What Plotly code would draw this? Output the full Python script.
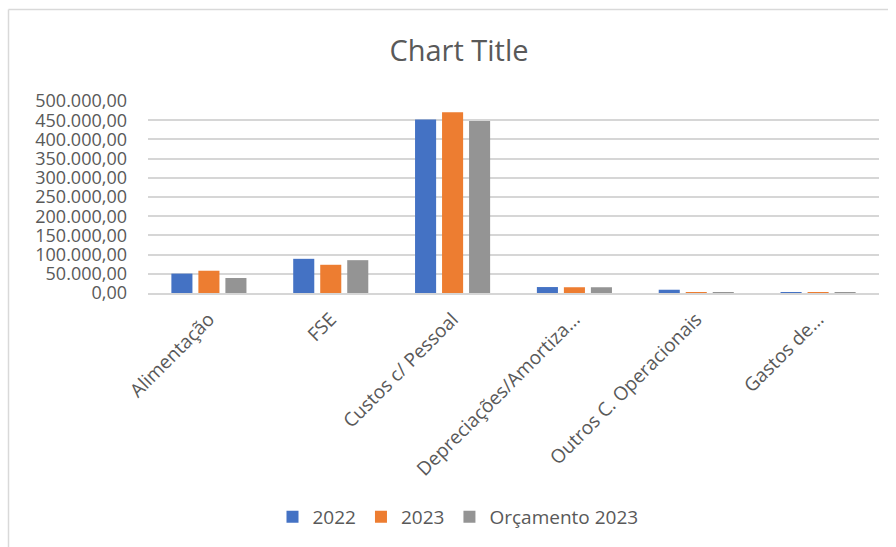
import plotly.graph_objects as go

categories = ["Alimentação", "FSE", "Custos c/ Pessoal", "Depreciações/Amortiza...",
              "Outros C. Operacionais", "Gastos de..."]
series_names = ["2022", "2023", "Orçamento 2023"]
values_2022 = [50500, 89000, 451500, 15500, 8500, 300]
values_2023 = [58000, 73500, 470500, 15000, 300, 300]
values_orc = [39000, 85500, 448000, 15000, 250, 250]
colors = ["#4472C4", "#ED7D31", "#949494"]

W, H = 896, 547
ML, MR, MT, MB = 148, 17, 101, 254
PW, PH = W - ML - MR, H - MT - MB

def px_x(p):
    return (p - ML) / PW

def px_y(p):
    return (H - MB - p) / PH

fig = go.Figure()
for name, vals, col in zip(series_names, [values_2022, values_2023, values_orc], colors):
    fig.add_trace(go.Bar(x=categories, y=vals, name=name, marker=dict(color=col, line=dict(width=0))))

font_family = "Open Sans"
txt = "#595959"

fig.update_layout(
    width=W, height=H,
    margin=dict(l=ML, r=MR, t=MT, b=MB),
    paper_bgcolor="white", plot_bgcolor="white",
    barmode="group", bargap=0.335, bargroupgap=0.22,
    separators=",.",
    font=dict(family=font_family, color=txt, size=18),
    title=dict(text="Chart Title", x=px_x(459), xanchor="center", y=1 - 51 / H, yanchor="middle",
               xref="paper", font=dict(size=29, color=txt, family=font_family)),
    legend=dict(orientation="h", x=px_x(458), xanchor="center", y=px_y(517), yanchor="middle",
                font=dict(size=19, color=txt), bgcolor="rgba(0,0,0,0)"),
    showlegend=True,
)
fig.update_yaxes(range=[0, 500000], dtick=50000, tickformat=",.2f", showgrid=True,
                 gridcolor="#d6d6d6", gridwidth=1.5, zeroline=False, showline=False,
                 ticks="", ticklabelstandoff=20, tickfont=dict(size=18, color=txt))
fig.update_xaxes(tickangle=-45, showline=True, linecolor="#d6d6d6", linewidth=1.5,
                 ticks="", ticklabelstandoff=6, tickfont=dict(size=19, color=txt))

# outer chart frame (top and left edges visible)
fig.add_shape(type="line", xref="paper", yref="paper", x0=px_x(8.5), x1=px_x(888), y0=px_y(9.5), y1=px_y(9.5),
              line=dict(color="#d9d9d9", width=1.5))
fig.add_shape(type="line", xref="paper", yref="paper", x0=px_x(8.5), x1=px_x(8.5), y0=px_y(9.5), y1=px_y(560),
              line=dict(color="#d9d9d9", width=1.5))

fig.write_html("out.html")
